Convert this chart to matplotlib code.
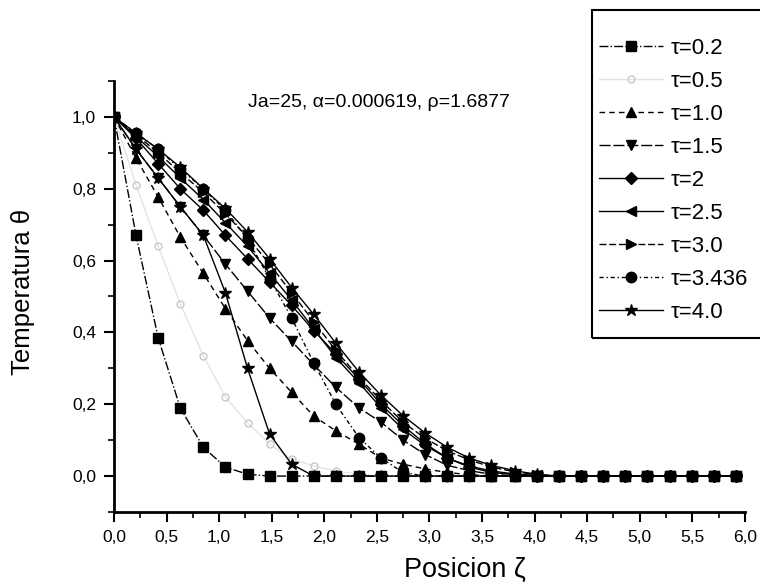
import matplotlib
matplotlib.use("Agg")
from matplotlib import pyplot as plt
from matplotlib.patches import Rectangle
import numpy as np

plt.rcParams['font.family'] = ['Liberation Sans', 'DejaVu Sans']

# positions along the domain (29 nodes)
zeta = [0.0, 0.21, 0.42, 0.63, 0.85, 1.06, 1.27, 1.48, 1.69, 1.90, 2.11, 2.33, 2.54, 2.75,
        2.96, 3.17, 3.38, 3.59, 3.81, 4.02, 4.23, 4.44, 4.65, 4.86, 5.07, 5.29, 5.50, 5.71, 5.92]

theta_02 = [1.0, 0.67, 0.385, 0.19, 0.08, 0.025, 0.005, 0.0, 0.0, 0.0, 0.0, 0.0, 0.0, 0.0,
            0.0, 0.0, 0.0, 0.0, 0.0, 0.0, 0.0, 0.0, 0.0, 0.0, 0.0, 0.0, 0.0, 0.0, 0.0]
theta_05 = [1.0, 0.81, 0.64, 0.48, 0.335, 0.22, 0.148, 0.089, 0.047, 0.028, 0.014, 0.005, 0.0, 0.0,
            0.0, 0.0, 0.0, 0.0, 0.0, 0.0, 0.0, 0.0, 0.0, 0.0, 0.0, 0.0, 0.0, 0.0, 0.0]
theta_10 = [1.0, 0.885, 0.777, 0.666, 0.564, 0.466, 0.377, 0.30, 0.233, 0.167, 0.126, 0.089, 0.05, 0.033,
            0.02, 0.01, 0.004, 0.0, 0.0, 0.0, 0.0, 0.0, 0.0, 0.0, 0.0, 0.0, 0.0, 0.0, 0.0]
theta_15 = [1.0, 0.91, 0.83, 0.75, 0.67, 0.59, 0.515, 0.44, 0.375, 0.31, 0.247, 0.19, 0.15, 0.10,
            0.06, 0.03, 0.015, 0.005, 0.0, 0.0, 0.0, 0.0, 0.0, 0.0, 0.0, 0.0, 0.0, 0.0, 0.0]
theta_20 = [1.0, 0.94, 0.87, 0.80, 0.74, 0.67, 0.605, 0.54, 0.475, 0.405, 0.34, 0.27, 0.20, 0.14,
            0.09, 0.05, 0.025, 0.01, 0.004, 0.0, 0.0, 0.0, 0.0, 0.0, 0.0, 0.0, 0.0, 0.0, 0.0]
theta_25 = [1.0, 0.945, 0.89, 0.83, 0.77, 0.705, 0.64, 0.565, 0.49, 0.41, 0.33, 0.26, 0.19, 0.13,
            0.085, 0.05, 0.028, 0.014, 0.006, 0.002, 0.0, 0.0, 0.0, 0.0, 0.0, 0.0, 0.0, 0.0, 0.0]
theta_30 = [1.0, 0.95, 0.90, 0.845, 0.79, 0.73, 0.665, 0.59, 0.51, 0.43, 0.35, 0.275, 0.21, 0.15,
            0.105, 0.07, 0.045, 0.025, 0.012, 0.004, 0.0, 0.0, 0.0, 0.0, 0.0, 0.0, 0.0, 0.0, 0.0]
theta_3436 = [1.0, 0.955, 0.91, 0.855, 0.80, 0.74, 0.66, 0.55, 0.44, 0.315, 0.20, 0.107, 0.05, 0.01,
              0.0, 0.0, 0.0, 0.0, 0.0, 0.0, 0.0, 0.0, 0.0, 0.0, 0.0, 0.0, 0.0, 0.0, 0.0]
theta_40 = [1.0, 0.955, 0.91, 0.86, 0.80, 0.745, 0.68, 0.605, 0.525, 0.45, 0.37, 0.29, 0.225, 0.168,
            0.12, 0.08, 0.05, 0.03, 0.015, 0.005, 0.0, 0.0, 0.0, 0.0, 0.0, 0.0, 0.0, 0.0, 0.0]
# steep star curve seen in the scan (no legend entry)
theta_40b = [1.0, 0.91, 0.83, 0.75, 0.67, 0.51, 0.30, 0.117, 0.033, 0.0, 0.0, 0.0, 0.0, 0.0,
             0.0, 0.0, 0.0, 0.0, 0.0, 0.0, 0.0, 0.0, 0.0, 0.0, 0.0, 0.0, 0.0, 0.0, 0.0]

labels = ['τ=0.2', 'τ=0.5', 'τ=1.0', 'τ=1.5', 'τ=2', 'τ=2.5', 'τ=3.0', 'τ=3.436', 'τ=4.0']

fig = plt.figure(figsize=(7.6, 5.86), dpi=100)
ax = fig.add_axes([0.15, 0.1263, 0.83, 0.7355])

ms = 6.5
ax.plot(zeta, theta_05, '-', color='#e4e4e4', lw=1.0, marker='o', mfc='none', mec='#c8c8c8', ms=5,
        label=labels[1])
ax.plot(zeta, theta_40b, '-', color='black', lw=1.0, marker='*', ms=9)
ax.plot(zeta, theta_02, '-.', color='black', lw=1.0, marker='s', ms=ms, label=labels[0])
ax.plot(zeta, theta_10, color='black', lw=1.0, ls=(0, (4, 3)), marker='^', ms=ms + 1, label=labels[2])
ax.plot(zeta, theta_15, color='black', lw=1.0, ls=(0, (8, 2)), marker='v', ms=ms + 1, label=labels[3])
ax.plot(zeta, theta_20, '-', color='black', lw=1.0, marker='D', ms=ms - 0.5, label=labels[4])
ax.plot(zeta, theta_25, '-', color='black', lw=1.0, marker='<', ms=ms + 1, label=labels[5])
ax.plot(zeta, theta_30, color='black', lw=1.0, ls=(0, (5, 2)), marker='>', ms=ms + 1, label=labels[6])
ax.plot(zeta, theta_40, '-', color='black', lw=1.0, marker='*', ms=9, label=labels[8])
ax.plot(zeta, theta_3436, color='black', lw=1.0, ls=(0, (3, 2, 1, 2)), marker='o', ms=ms + 1,
        label=labels[7])

ax.set_xlim(0, 6)
ax.set_ylim(-0.1, 1.1)
ax.set_xticks(np.arange(0, 6.01, 0.5))
ax.set_xticks(np.arange(0.25, 6.0, 0.5), minor=True)
ax.set_yticks(np.arange(0, 1.01, 0.2))
ax.set_yticks(np.arange(-0.1, 1.11, 0.2), minor=True)
ax.set_xticklabels([('%.1f' % v).replace('.', ',') for v in np.arange(0, 6.01, 0.5)])
ax.set_yticklabels([('%.1f' % v).replace('.', ',') for v in np.arange(0, 1.01, 0.2)])
ax.tick_params(which='major', direction='out', length=7, width=1.5, labelsize=12.5, pad=6)
ax.tick_params(which='minor', direction='out', length=4, width=1.2)
for side in ['top', 'right']:
    ax.spines[side].set_visible(False)
for side in ['left', 'bottom']:
    ax.spines[side].set_linewidth(2)

ax.set_xlabel('Posicion ζ', fontsize=19.5)
ax.xaxis.set_label_coords(0.556, -0.105)
ax.set_ylabel('Temperatura θ', fontsize=18.5)
ax.yaxis.set_label_coords(-0.125, 0.51)
ax.text(0.42, 0.95, 'Ja=25, α=0.000619, ρ=1.6877', transform=ax.transAxes, fontsize=14,
        ha='center', va='center')

handles, labs = ax.get_legend_handles_labels()
order = [labs.index(l) for l in labels]
leg = fig.legend([handles[i] for i in order], [labs[i] for i in order],
                 loc='upper left', bbox_to_anchor=(0.776, 0.95), frameon=False, fontsize=16,
                 handlelength=2.9, handletextpad=0.35, labelspacing=0.54, borderaxespad=0)

fig.patches.append(Rectangle((592 / 760, 1 - 338 / 586), 0.3, (338 - 10) / 586,
                             transform=fig.transFigure, fill=False, lw=1.5, ec='black'))

fig.savefig('out.png', dpi=100)
